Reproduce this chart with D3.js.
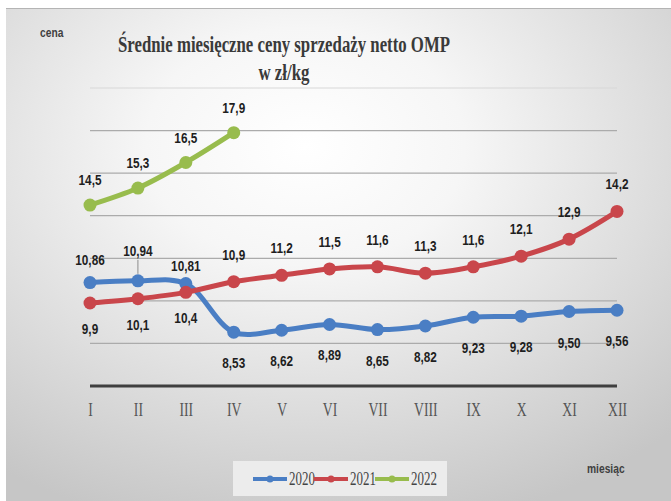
<!DOCTYPE html>
<html>
<head>
<meta charset="utf-8">
<script src="https://cdn.jsdelivr.net/npm/d3@7"></script>
<style>
  body { margin: 0; background: #fff; }
  svg { display: block; }
</style>
</head>
<body>
<svg width="671" height="501"></svg>
<script>
// data
var months = ["I", "II", "III", "IV", "V", "VI", "VII", "VIII", "IX", "X", "XI", "XII"];
var years = ["2020", "2021", "2022"];
var v2020 = [10.86, 10.94, 10.81, 8.53, 8.62, 8.89, 8.65, 8.82, 9.23, 9.28, 9.50, 9.56];
var v2021 = [9.9, 10.1, 10.4, 10.9, 11.2, 11.5, 11.6, 11.3, 11.6, 12.1, 12.9, 14.2];
var v2022 = [14.5, 15.3, 16.5, 17.9];
var yTicks = [6, 8, 10, 12, 14, 16, 18, 20];

var colors = { "2020": "#4a7ec4", "2021": "#c9464b", "2022": "#98bc4d" };
var series = [
  { name: "2020", values: v2020 },
  { name: "2021", values: v2021 },
  { name: "2022", values: v2022 }
];

var svg = d3.select("svg");
var defs = svg.append("defs");
var grad = defs.append("radialGradient").attr("id", "bg")
  .attr("cx", "45%").attr("cy", "28%").attr("r", "80%");
grad.append("stop").attr("offset", "0").attr("stop-color", "#ffffff");
grad.append("stop").attr("offset", "0.3").attr("stop-color", "#f6f6f6");
grad.append("stop").attr("offset", "1").attr("stop-color", "#c6c6c6");

// background
svg.append("rect").attr("x", 6).attr("y", 8).attr("width", 665).attr("height", 493)
  .attr("fill", "url(#bg)");
svg.append("line").attr("x1", 6).attr("x2", 671).attr("y1", 8.5).attr("y2", 8.5)
  .attr("stroke", "#b4b4b4").attr("stroke-width", 1);

// scales
var x = d3.scalePoint().domain(months).range([90, 617]);
var y = d3.scaleLinear().domain([6, 20]).range([386, 88]);

// gridlines
svg.append("g").selectAll("line")
  .data(yTicks.slice(1))
  .enter().append("line")
  .attr("x1", 90).attr("x2", 617)
  .attr("y1", function(d){ return y(d); })
  .attr("y2", function(d){ return y(d); })
  .attr("stroke", function(d){ return d == 20 ? "#d8d8d8" : "#ababab"; })
  .attr("stroke-width", 1.2);

// x axis
var xAxis = d3.axisBottom(x).tickSize(0).tickPadding(0);
var gx = svg.append("g").attr("transform", "translate(0,386)").call(xAxis);
gx.select(".domain").attr("d", "M90,0H617").attr("stroke", "#3f3f3f").attr("stroke-width", 3.2);
gx.selectAll(".tick text")
  .attr("y", 0).attr("dy", 0)
  .attr("font-family", "Liberation Serif, serif")
  .attr("font-size", 19)
  .attr("fill", "#555")
  .attr("transform", "translate(0,30) scale(0.72,1)");

// lines
var line = d3.line()
  .x(function(d, i){ return x(months[i]); })
  .y(function(d){ return y(d); })
  .curve(d3.curveCatmullRom.alpha(0.5));

var gs = svg.append("g").selectAll("g")
  .data(series)
  .enter().append("g");

gs.append("path")
  .attr("d", function(s){ return line(s.values); })
  .attr("fill", "none")
  .attr("stroke", function(s){ return colors[s.name]; })
  .attr("stroke-width", 5)
  .attr("stroke-linejoin", "round");

gs.selectAll("circle")
  .data(function(s){ return s.values.map(function(v, i){ return { name: s.name, v: v, i: i }; }); })
  .enter().append("circle")
  .attr("cx", function(d){ return x(months[d.i]); })
  .attr("cy", function(d){ return y(d.v); })
  .attr("r", 6.5)
  .attr("fill", function(d){ return colors[d.name]; });

// data labels
function fmt(d) {
  var s = d.name == "2020" ? d.v.toFixed(2) : String(d.v);
  if (d.name != "2020" && s.indexOf(".") < 0) s = s + ".0";
  return s.replace(".", ",");
}
function labelDy(d) {
  if (d.name == "2022") return -20;
  if (d.name == "2021") return d.i < 3 ? 31 : -22;
  if (d.i == 0) return -18;
  if (d.i == 1) return -25;
  if (d.i == 2) return -13;
  return 36;
}
var labels = [];
series.forEach(function(s){
  s.values.forEach(function(v, i){ labels.push({ name: s.name, v: v, i: i }); });
});

// leader line for 10,94
svg.append("line")
  .attr("x1", x("II")).attr("x2", x("II"))
  .attr("y1", y(v2020[1]) - 21).attr("y2", y(v2020[1]) - 7)
  .attr("stroke", "#8c8c8c").attr("stroke-width", 1);

svg.append("g").selectAll("text")
  .data(labels)
  .enter().append("text")
  .attr("transform", function(d){
    return "translate(" + x(months[d.i]) + "," + (y(d.v) + labelDy(d)) + ") scale(0.76,1)";
  })
  .attr("text-anchor", "middle")
  .attr("font-family", "Liberation Sans, Arial, sans-serif")
  .attr("font-weight", "bold")
  .attr("font-size", 15.5)
  .attr("fill", "#1e1e1e")
  .text(fmt);

// title
svg.append("text")
  .attr("x", 284).attr("y", 52)
  .attr("text-anchor", "middle")
  .attr("font-family", "Liberation Serif, serif")
  .attr("font-weight", "bold")
  .attr("font-size", 24)
  .attr("fill", "#3a3a3a")
  .attr("textLength", 332).attr("lengthAdjust", "spacingAndGlyphs")
  .text("Średnie miesięczne ceny sprzedaży netto OMP");
svg.append("text")
  .attr("x", 284).attr("y", 80)
  .attr("text-anchor", "middle")
  .attr("font-family", "Liberation Serif, serif")
  .attr("font-weight", "bold")
  .attr("font-size", 24)
  .attr("fill", "#3a3a3a")
  .attr("textLength", 51).attr("lengthAdjust", "spacingAndGlyphs")
  .text("w zł/kg");

// axis titles
svg.append("text")
  .attr("transform", "translate(40,37) scale(0.82,1)")
  .attr("font-family", "Liberation Sans, Arial, sans-serif")
  .attr("font-weight", "bold").attr("font-size", 12.5).attr("fill", "#404040")
  .text("cena");
svg.append("text")
  .attr("transform", "translate(587,473) scale(0.82,1)")
  .attr("font-family", "Liberation Sans, Arial, sans-serif")
  .attr("font-weight", "bold").attr("font-size", 12.5).attr("fill", "#404040")
  .text("miesiąc");

// legend
var lg = svg.append("g").attr("transform", "translate(233,461)");
lg.append("rect").attr("width", 214).attr("height", 35).attr("fill", "#ececec");
var li = lg.selectAll("g.item")
  .data(years)
  .enter().append("g")
  .attr("class", "item")
  .attr("transform", function(d, i){ return "translate(" + (20 + i * 61) + ",18)"; });
li.append("line")
  .attr("x1", 0).attr("x2", 34)
  .attr("stroke", function(d){ return colors[d]; })
  .attr("stroke-width", 4);
li.append("circle")
  .attr("cx", 17).attr("r", 3.5)
  .attr("fill", function(d){ return colors[d]; });
li.append("text")
  .attr("transform", "translate(36,6) scale(0.72,1)")
  .attr("font-family", "Liberation Serif, serif")
  .attr("font-size", 18)
  .attr("fill", "#444")
  .text(function(d){ return d; });
</script>
</body>
</html>
